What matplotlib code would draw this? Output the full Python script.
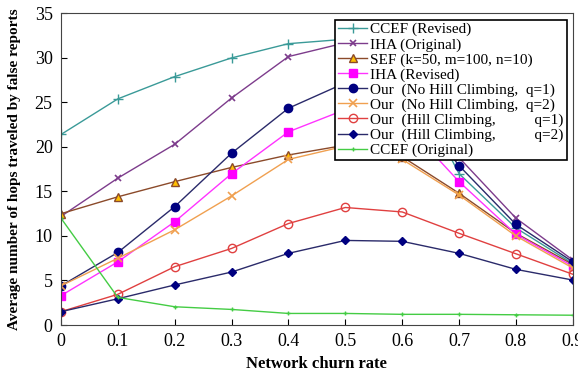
import matplotlib
matplotlib.use("Agg")
import matplotlib.pyplot as plt

plt.rcParams['font.family'] = ['Liberation Serif', 'DejaVu Serif']

churn = [0, 0.1, 0.2, 0.3, 0.4, 0.5, 0.6, 0.7, 0.8, 0.9]

ccef_revised = [21.4, 25.4, 27.9, 30.0, 31.6, 32.1, 29.2, 17.0, 10.9, 6.9]
iha_original = [12.2, 16.5, 20.3, 25.5, 30.15, 31.7, 30.0, 18.8, 12.0, 7.3]
sef = [12.5, 14.4, 16.1, 17.7, 19.1, 20.2, 18.9, 14.8, 10.3, 6.8]
iha_revised = [3.3, 7.1, 11.6, 17.0, 21.7, 24.2, 23.0, 16.1, 10.2, 6.6]
our_nhc_q1 = [4.4, 8.15, 13.3, 19.3, 24.35, 27.2, 26.0, 17.9, 11.3, 7.1]
our_nhc_q2 = [4.4, 7.5, 10.7, 14.5, 18.6, 20.1, 18.6, 14.6, 10.0, 6.4]
our_hc_q1 = [1.5, 3.45, 6.55, 8.6, 11.4, 13.2, 12.7, 10.3, 8.0, 5.7]
our_hc_q2 = [1.5, 2.95, 4.5, 5.95, 8.05, 9.5, 9.4, 8.05, 6.25, 5.05]
ccef_original = [12.0, 3.1, 2.05, 1.75, 1.3, 1.3, 1.2, 1.2, 1.15, 1.1]

labels = ["CCEF (Revised)", "IHA (Original)", "SEF (k=50, m=100, n=10)",
          "IHA (Revised)", "Our  (No Hill Climbing,  q=1)",
          "Our  (No Hill Climbing,  q=2)", "Our  (Hill Climbing,          q=1)",
          "Our  (Hill Climbing,          q=2)", "CCEF (Original)"]

fig = plt.figure(figsize=(5.78, 3.72), dpi=100)
ax = fig.add_axes([0.1055, 0.1263, 0.8855, 0.8377])

lw = 1.0
ax.plot(churn, ccef_revised, color='#3a9a98', marker='+', ms=7, lw=lw, label=labels[0])
ax.plot(churn, iha_original, color='#7d3c8c', marker='x', ms=5, mew=1.2, lw=lw, label=labels[1])
ax.plot(churn, sef, color='#8b4a2a', marker='^', ms=6, mfc='#ffc000', mec='#8b4a2a', lw=lw, label=labels[2])
ax.plot(churn, iha_revised, color='#ff33ff', marker='s', ms=6, mfc='#ff00ff', mec='#ff00ff', lw=lw, label=labels[3])
ax.plot(churn, our_nhc_q1, color='#2a2a6a', marker='o', ms=6, mfc='#000080', mec='#000080', lw=lw, label=labels[4])
ax.plot(churn, our_nhc_q2, color='#f0a050', marker='x', ms=6, mew=1.2, lw=lw, label=labels[5])
ax.plot(churn, our_hc_q1, color='#e04040', marker='o', ms=6, mfc='none', mec='#e04040', lw=lw, label=labels[6])
ax.plot(churn, our_hc_q2, color='#2a2a6a', marker='D', ms=4.5, mfc='#000080', mec='#000080', lw=lw, label=labels[7])
ax.plot(churn, ccef_original, color='#44cc44', marker='+', ms=3, lw=lw, label=labels[8])

ax.set_xlim(0, 0.9)
ax.set_ylim(0, 35)
ax.set_xticks(churn)
ax.set_xticklabels(['0'] + [str(v) for v in churn[1:]])
ax.set_yticks(range(0, 36, 5))
ax.tick_params(direction='in', labelsize=13, length=4, pad=6)
for s in ax.spines.values():
    s.set_color('#444444')

ax.set_xlabel("Network churn rate", fontsize=12, fontweight='bold', labelpad=4)
ax.set_ylabel("Average number of hops traveled by false reports", fontsize=11,
              fontweight='bold', labelpad=10)

leg = ax.legend(loc='upper right', bbox_to_anchor=(0.997, 0.995), fontsize=11,
                frameon=True, fancybox=False, edgecolor='black', framealpha=1,
                handlelength=1.9, handletextpad=0.2, labelspacing=0.08,
                borderpad=0.2, borderaxespad=0.3)
leg.get_frame().set_linewidth(1.2)

fig.savefig("out.png", dpi=100)
